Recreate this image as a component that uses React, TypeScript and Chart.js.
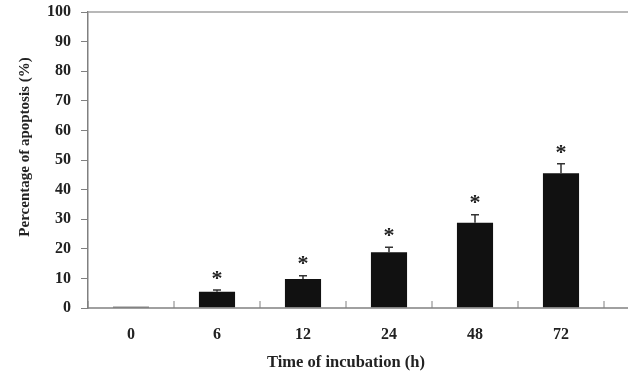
import React, { useEffect, useRef } from "react";
import { Chart, registerables } from "chart.js";

Chart.register(...registerables);

const categories = ["0", "6", "12", "24", "48", "72"];
const values = [0.4, 5.5, 9.8, 18.8, 28.8, 45.5];
const errors = [0, 0.6, 1.1, 1.7, 2.7, 3.2];
const significant = [false, true, true, true, true, true];
const yTicks = [0, 10, 20, 30, 40, 50, 60, 70, 80, 90, 100];
const yTitle = "Percentage of apoptosis (%)";
const xTitle = "Time of incubation (h)";

const FONT = "'Liberation Serif', 'Times New Roman', serif";
const AXIS = "#808080";

const decorPlugin = {
  id: "decor",
  afterDatasetsDraw(chart: any) {
    const { ctx, chartArea, scales } = chart;
    const x = scales.x;
    const y = scales.y;
    ctx.save();
    ctx.strokeStyle = "#a0a0a0";
    ctx.lineWidth = 1.5;
    ctx.beginPath();
    ctx.moveTo(chartArea.left, chartArea.top);
    ctx.lineTo(chart.width, chartArea.top);
    ctx.stroke();
    ctx.strokeStyle = AXIS;
    ctx.beginPath();
    ctx.moveTo(chartArea.left, chartArea.bottom);
    ctx.lineTo(chart.width, chartArea.bottom);
    ctx.stroke();
    const n = categories.length;
    const step = x.getPixelForValue(1) - x.getPixelForValue(0);
    ctx.lineWidth = 1;
    for (let i = 0; i <= n; i++) {
      const px = x.getPixelForValue(0) - step / 2 + i * step;
      ctx.beginPath();
      ctx.moveTo(px, chartArea.bottom);
      ctx.lineTo(px, chartArea.bottom - 7);
      ctx.stroke();
    }
    const meta = chart.getDatasetMeta(0);
    meta.data.forEach((bar: any, i: number) => {
      const top = y.getPixelForValue(values[i] + errors[i]);
      const base = y.getPixelForValue(values[i]);
      if (errors[i] > 0) {
        ctx.strokeStyle = "#333";
        ctx.lineWidth = 1.5;
        ctx.beginPath();
        ctx.moveTo(bar.x, base);
        ctx.lineTo(bar.x, top);
        ctx.moveTo(bar.x - 4, top);
        ctx.lineTo(bar.x + 4, top);
        ctx.stroke();
      }
      if (significant[i]) {
        ctx.fillStyle = "#222";
        ctx.font = `bold 22px ${FONT}`;
        ctx.textAlign = "center";
        ctx.textBaseline = "middle";
        ctx.fillText("*", bar.x, top - 11);
      }
    });
    ctx.translate(25, 147);
    ctx.rotate(-Math.PI / 2);
    ctx.fillStyle = "#222";
    ctx.font = `bold 15px ${FONT}`;
    ctx.textAlign = "center";
    ctx.textBaseline = "middle";
    ctx.fillText(yTitle, 0, 0);
    ctx.restore();
  },
};

export default function App() {
  const ref = useRef<HTMLCanvasElement | null>(null);
  useEffect(() => {
    if (!ref.current) return;
    const chart = new Chart(ref.current, {
      type: "bar",
      data: {
        labels: categories,
        datasets: [
          {
            data: values,
            backgroundColor: "#111111",
            borderWidth: 0,
            barPercentage: 0.42,
            categoryPercentage: 1,
          },
        ],
      },
      options: {
        animation: false,
        responsive: false,
        maintainAspectRatio: false,
        layout: { padding: { left: 0, right: 24, top: 12, bottom: 0 } },
        plugins: { legend: { display: false }, tooltip: { enabled: false } },
        scales: {
          x: {
            offset: true,
            grid: { display: false },
            border: { display: false },
            ticks: {
              color: "#222",
              font: { family: FONT, size: 16, weight: "bold" },
              padding: 9,
            },
            title: {
              display: true,
              text: xTitle,
              color: "#222",
              font: { family: FONT, size: 16.5, weight: "bold" },
              padding: { top: 4, bottom: 0 },
            },
            afterFit: (s: any) => {
              s.height = 65;
              s.paddingLeft = 0;
              s.paddingRight = 0;
            },
          },
          y: {
            min: 0,
            max: 100,
            afterBuildTicks: (s: any) => {
              s.ticks = yTicks.map((v) => ({ value: v }));
            },
            grid: {
              drawOnChartArea: false,
              drawTicks: true,
              tickLength: 7,
              color: AXIS,
            },
            border: { display: true, color: AXIS, width: 1.5 },
            ticks: {
              color: "#222",
              font: { family: FONT, size: 16, weight: "bold" },
              padding: 10,
            },
            title: { display: false },
            afterFit: (s: any) => {
              s.width = 88;
              s.paddingTop = 0;
              s.paddingBottom = 0;
            },
          },
        },
      },
      plugins: [decorPlugin],
    });
    return () => chart.destroy();
  }, []);
  return (
    <div style={{ position: "fixed", left: 0, top: 0, width: 628, height: 373, background: "#fff" }}>
      <canvas ref={ref} width={628} height={373} />
    </div>
  );
}
